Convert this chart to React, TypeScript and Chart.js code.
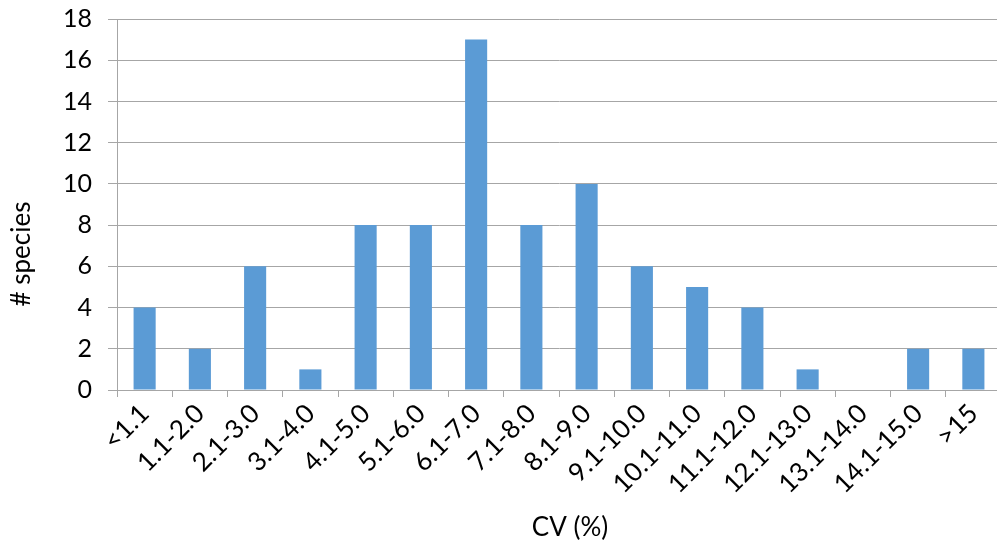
import React, { useEffect, useRef } from "react";
import { Chart, registerables } from "chart.js";

Chart.register(...registerables);

const categories = [
  "<1.1", "1.1-2.0", "2.1-3.0", "3.1-4.0", "4.1-5.0", "5.1-6.0", "6.1-7.0", "7.1-8.0",
  "8.1-9.0", "9.1-10.0", "10.1-11.0", "11.1-12.0", "12.1-13.0", "13.1-14.0", "14.1-15.0", ">15",
];
const speciesCounts = [4, 2, 6, 1, 8, 8, 17, 8, 10, 6, 5, 4, 1, 0, 2, 2];
const yTitle = "# species";
const xTitle = "CV (%)";

const FONT = "Lato";
const GRID = "#a6a6a6";

const titlePlugin = {
  id: "axisTitles",
  afterDraw(chart: any) {
    const ctx = chart.ctx;
    ctx.save();
    ctx.fillStyle = "#000";
    ctx.font = `26px ${FONT}`;
    ctx.textAlign = "center";
    ctx.textBaseline = "middle";
    ctx.fillText(xTitle, 570, 528);
    ctx.translate(22, 254);
    ctx.rotate(-Math.PI / 2);
    ctx.fillText(yTitle, 0, 0);
    ctx.restore();
  },
};

export default function App() {
  const ref = useRef<HTMLCanvasElement>(null);
  useEffect(() => {
    if (!ref.current) return;
    const chart = new Chart(ref.current, {
      type: "bar",
      data: {
        labels: categories,
        datasets: [
          {
            data: speciesCounts,
            backgroundColor: "#5b9bd5",
            barPercentage: 0.4,
            categoryPercentage: 1,
          },
        ],
      },
      options: {
        animation: false,
        responsive: true,
        maintainAspectRatio: false,
        layout: { padding: { top: 19, right: 0, left: 0, bottom: 0 } },
        plugins: { legend: { display: false }, tooltip: { enabled: false } },
        scales: {
          x: {
            offset: true,
            grid: {
              offset: true,
              drawOnChartArea: false,
              drawTicks: true,
              tickLength: 7,
              color: GRID,
            },
            border: { color: GRID, width: 1 },
            ticks: {
              color: "#000",
              font: { family: FONT, size: 26 },
              maxRotation: 45,
              minRotation: 45,
              padding: 1,
              autoSkip: false,
            },
            afterFit(scale: any) {
              scale.height = 156;
              scale.paddingLeft = 0;
              scale.paddingRight = 0;
            },
          },
          y: {
            min: 0,
            max: 18,
            ticks: {
              stepSize: 2,
              color: "#000",
              font: { family: FONT, size: 25 },
              padding: 16,
            },
            grid: { color: GRID, tickLength: 9 },
            border: { color: GRID, width: 1 },
            afterFit(scale: any) {
              scale.width = 117;
              scale.paddingTop = 0;
              scale.paddingBottom = 0;
            },
          },
        },
      },
      plugins: [titlePlugin],
    });
    return () => chart.destroy();
  }, []);
  return (
    <div style={{ position: "fixed", left: 0, top: 0, width: 997, height: 546, overflow: "hidden", background: "#fff" }}>
      <div style={{ position: "absolute", left: 0, top: 0, width: 1001, height: 546 }}>
        <canvas ref={ref} />
      </div>
    </div>
  );
}
